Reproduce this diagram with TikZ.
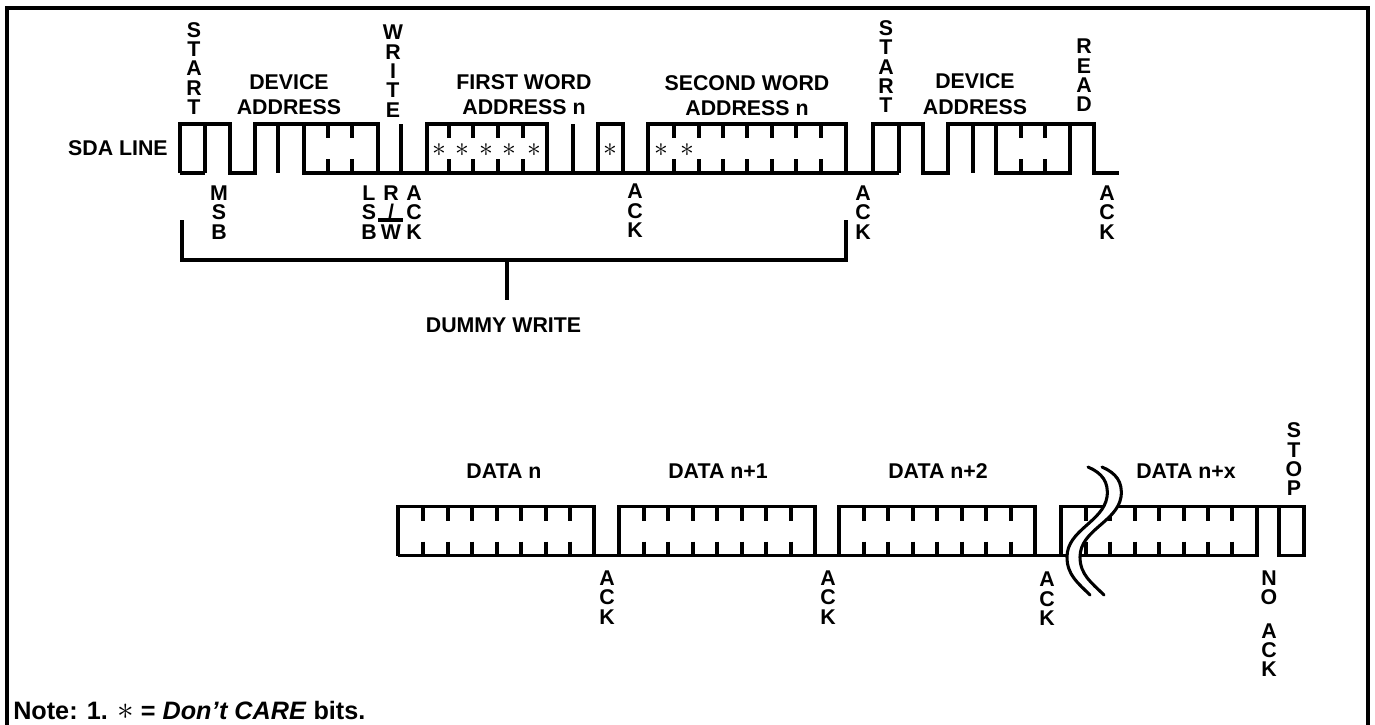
\documentclass[tikz,border=0pt]{standalone}
\usepackage{fontspec}
\setmainfont{Liberation Sans}
\newcommand{\wf}{\fontsize{16}{19}\selectfont\bfseries}
\tikzset{
  x=0.75pt,y=-0.75pt,
  wave/.style={line width=2.3pt,line cap=butt,line join=miter,black},
  txt/.style={font=\wf,inner sep=0pt,align=center,anchor=center},
  vtxt/.style={font=\fontsize{16}{14.5}\selectfont\bfseries,inner sep=0pt,align=center,anchor=north},
  dc/.style={inner sep=0pt,anchor=center,font=\fontsize{21}{21}\selectfont},
}
\newcommand{\ticks}[3]{\foreach \q in {#1}{\draw[wave] (\q,#2) -- (\q,#2+14); \draw[wave] (\q,#3-14) -- (\q,#3);}}
\begin{document}
\begin{tikzpicture}
\useasboundingbox (0,0) rectangle (1375,725);
\draw[wave] (7,725) -- (7,8) -- (1368,8) -- (1368,725);
% Upper waveform
\def\hi{124}\def\lo{173}
\draw[wave] (180,\lo) -- (180,\hi) -- (230,\hi) -- (230,\lo) -- (255,\lo) -- (255,\hi) -- (378,\hi) -- (378,\lo);
\draw[wave] (180,\lo) -- (205,\lo) (205,\hi) -- (205,\lo);
\draw[wave] (278,\hi) -- (278,\lo);
\draw[wave] (304,\hi) -- (304,\lo) -- (846,\lo);
\draw[wave] (401,\hi) -- (401,\lo);
\draw[wave] (427,\lo) -- (427,\hi) -- (547,\hi) -- (547,\lo);
\draw[wave] (573,\hi) -- (573,\lo);
\draw[wave] (598,\lo) -- (598,\hi) -- (623,\hi) -- (623,\lo);
\draw[wave] (648,\lo) -- (648,\hi) -- (846,\hi) -- (846,\lo) -- (899,\lo);
\draw[wave] (873,\lo) -- (873,\hi) -- (923,\hi) -- (923,\lo) -- (948,\lo) -- (948,\hi) -- (1094,\hi) -- (1094,\lo) -- (1119,\lo);
\draw[wave] (899,\hi) -- (899,\lo);
\draw[wave] (973,\hi) -- (973,\lo);
\draw[wave] (996,\hi) -- (996,\lo) -- (1070,\lo) -- (1070,\hi);
\ticks{328,352,1021,1045,449,473,498,523,674,699,723,747,772,796,821}{\hi}{\lo}
% Don't care marks
\foreach \q in {439,462,486,509,534,610,661,687}{\node[dc] at (\q,150) {$\ast$};}
% Lower waveform
\def\hb{506.5}\def\lb{555.5}
\draw[wave] (398,\lb) -- (398,\hb) -- (594,\hb) -- (594,\lb);
\draw[wave] (398,\lb) -- (1257,\lb) -- (1257,\hb);
\draw[wave] (619,\lb) -- (619,\hb) -- (815,\hb) -- (815,\lb);
\draw[wave] (839,\lb) -- (839,\hb) -- (1035,\hb) -- (1035,\lb);
\draw[wave] (1061,\lb) -- (1061,\hb) -- (1304,\hb) -- (1304,\lb) -- (1279,\lb) -- (1279,\hb);
\ticks{423,448,472,497,521,546,570,644,668,693,717,742,766,791,864,888,913,937,962,986,1011,1086,1110,1135,1159,1184,1208,1232}{\hb}{\lb}
% Break
\fill[white] (1088,467) .. controls (1102,473) and (1109,482) .. (1107,497) .. controls (1103,522) and (1067,530) .. (1067,557) .. controls (1067,575) and (1078,583) .. (1090,595)
 -- (1104,595) .. controls (1092,583) and (1080,575) .. (1080,557) .. controls (1080,530) and (1117,522) .. (1121,497) .. controls (1123,482) and (1116,473) .. (1102,467) -- cycle;
\draw[wave,line cap=round] (1088,467) .. controls (1102,473) and (1109,482) .. (1107,497) .. controls (1103,522) and (1067,530) .. (1067,557) .. controls (1067,575) and (1078,583) .. (1090,595);
\draw[wave,line cap=round] (1102,467) .. controls (1116,473) and (1123,482) .. (1121,497) .. controls (1117,522) and (1080,530) .. (1080,557) .. controls (1080,575) and (1092,583) .. (1104,595);
% Bracket
\coordinate (bl) at (182,220); \coordinate (br) at (846,220);
\draw[wave] (bl) -- (182,260) -- (846,260) -- (br);
\draw[wave] (507,260) -- (507,300);
% Labels
\node[txt,anchor=east] (sda) at (168,148) {SDA LINE};
\node[txt] (d1) at (289,94.5) {DEVICE\\ADDRESS};
\node[txt] (fw) at (524,94.5) {FIRST WORD\\ADDRESS n};
\node[txt] (sw) at (747,95.5) {SECOND WORD\\ADDRESS n};
\node[txt] (d2) at (975,94) {DEVICE\\ADDRESS};
\node[txt] (dw) at (503.5,325) {DUMMY WRITE};
\node[txt] (dn) at (504,471) {DATA n};
\node[txt] (dn1) at (718,471) {DATA n+1};
\node[txt] (dn2) at (938,471) {DATA n+2};
\node[txt] (dnx) at (1186,471) {DATA n+x};
\node[vtxt] (st1) at (194,22) {S\\T\\A\\R\\T};
\node[vtxt] (wr) at (393,25) {W\\R\\I\\T\\E};
\node[vtxt] (st2) at (886,20.5) {S\\T\\A\\R\\T};
\node[vtxt] (rd) at (1084,39) {R\\E\\A\\D};
\node[vtxt] (msb) at (219,185.5) {M\\S\\B};
\node[vtxt] (lsb) at (369,185.5) {L\\S\\B};
\node[vtxt] (rw) at (391,185.5) {R\\/\\W};
\draw[wave] (378,220) -- (403,220);
\node[vtxt] (a1) at (414,185.5) {A\\C\\K};
\node[vtxt] (a2) at (635,184) {A\\C\\K};
\node[vtxt] (a3) at (863,185.5) {A\\C\\K};
\node[vtxt] (a4) at (1107,185.5) {A\\C\\K};
\node[vtxt] (a5) at (607,570.5) {A\\C\\K};
\node[vtxt] (a6) at (828,570.5) {A\\C\\K};
\node[vtxt] (a7) at (1047,572) {A\\C\\K};
\node[vtxt] (na) at (1269,570.5) {N\\O\\[10.5pt]A\\C\\K};
\node[vtxt] (sp) at (1294,422.5) {S\\T\\O\\P};
\node[txt,anchor=west,font=\fontsize{18.9}{22}\selectfont\bfseries] (nt) at (13,710) {Note: 1. {\mdseries\fontsize{24}{24}\selectfont$\ast$} = \textit{Don’t CARE} bits.};
\end{tikzpicture}
\end{document}
